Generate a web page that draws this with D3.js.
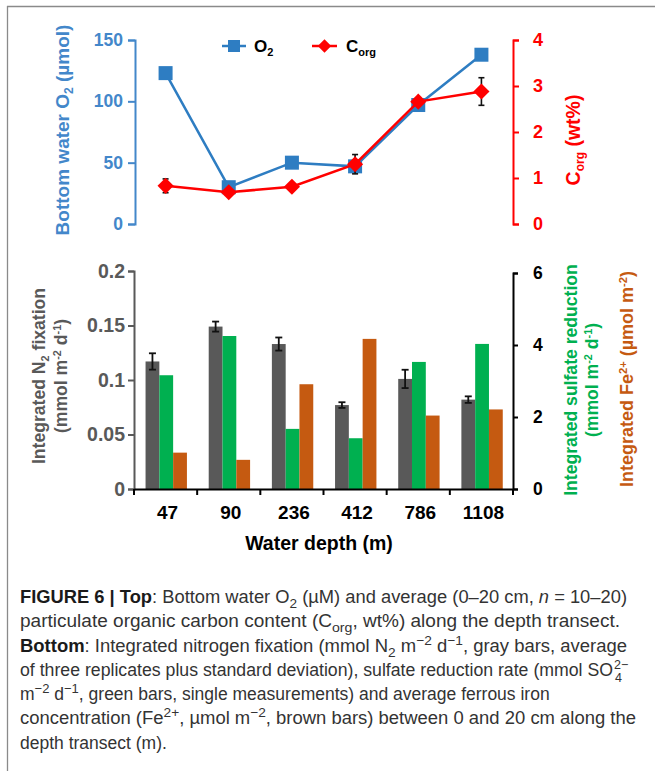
<!DOCTYPE html>
<html>
<head>
<meta charset="utf-8">
<script src="https://cdn.jsdelivr.net/npm/d3@7"></script>
<style>
  html, body { margin: 0; padding: 0; background: #fff; }
  svg { display: block; }
</style>
</head>
<body>
<svg id="fig" width="655" height="771"></svg>
<script>
// ---------------- DATA ----------------
const depths   = ["47", "90", "236", "412", "786", "1108"];
const o2       = [123, 30, 50, 47, 97, 138];             // µmol
const corg     = [0.83, 0.69, 0.81, 1.30, 2.66, 2.88];   // wt%
const corgErr  = [0.15, 0.05, 0.05, 0.21, 0.05, 0.30];
const n2Fix    = [0.117, 0.149, 0.133, 0.077, 0.101, 0.082];
const n2Err    = [0.0075, 0.0046, 0.006, 0.0026, 0.0084, 0.003];
const sulfate  = [3.16, 4.25, 1.67, 1.41, 3.53, 4.03];
const fe       = [1.01, 0.81, 2.91, 4.17, 2.04, 2.21];
const o2Ticks    = [0, 50, 100, 150];
const corgTicks  = [0, 1, 2, 3, 4];
const n2Ticks    = [0, 0.05, 0.1, 0.15, 0.2];
const n2TickLabels = ["0", "0.05", "0.1", "0.15", "0.2"];
const rightTicks = [0, 2, 4, 6];

// ---------------- STYLE ----------------
const FONT = "'Liberation Sans', Arial, Helvetica, sans-serif";
const CAP_FONT = "'Liberation Sans', Arial, Helvetica, sans-serif";
const BLUE_LINE = "#2E7DC2";
const BLUE_TXT = "#4387CA";
const RED = "#FF0000";
const GREY = "#595959";
const GREEN = "#00B050";
const ORANGE = "#C55A11";
const CAP_COL = "#333333";

const svg = d3.select("#fig");

// frame
svg.append("line").attr("x1", 7).attr("x2", 655).attr("y1", 6.5).attr("y2", 6.5)
  .attr("stroke", "#8a8a8a").attr("stroke-width", 1.3);
svg.append("line").attr("x1", 7.5).attr("x2", 7.5).attr("y1", 6).attr("y2", 771)
  .attr("stroke", "#8a8a8a").attr("stroke-width", 1.3);

// shared x band scale
const x = d3.scaleBand().domain(depths).range([134, 513]).paddingInner(0).paddingOuter(0);
const cx = d => x(d) + x.bandwidth() / 2;

// ================= TOP CHART =================
const yO2 = d3.scaleLinear().domain([0, 150]).range([224, 40]);
const yC  = d3.scaleLinear().domain([0, 4]).range([224, 40]);

function styleAxis(g, color, size) {
  g.select(".domain").attr("stroke", color).attr("stroke-width", 2);
  g.selectAll(".tick line").attr("stroke", color).attr("stroke-width", 2);
  g.selectAll(".tick text").attr("fill", color)
    .attr("font-family", FONT).attr("font-weight", "bold").attr("font-size", size);
}

const axO2 = svg.append("g").attr("transform", "translate(135,0)")
  .call(d3.axisLeft(yO2).tickValues(o2Ticks).tickSize(7).tickPadding(5));
styleAxis(axO2, BLUE_TXT, 17.5);

const axC = svg.append("g").attr("transform", "translate(513,0)")
  .call(d3.axisRight(yC).tickValues(corgTicks).tickFormat(d3.format("d")).tickSize(6).tickPadding(14));
styleAxis(axC, RED, 18);

// O2 line + squares
const o2Data = depths.map((d, i) => ({ d, v: o2[i] }));
svg.append("path").datum(o2Data)
  .attr("fill", "none").attr("stroke", BLUE_LINE).attr("stroke-width", 2.5)
  .attr("d", d3.line().x(p => cx(p.d)).y(p => yO2(p.v)));
svg.selectAll(".sq").data(o2Data).enter().append("rect")
  .attr("x", p => cx(p.d) - 7).attr("y", p => yO2(p.v) - 7)
  .attr("width", 14).attr("height", 14).attr("fill", BLUE_LINE);

// Corg line, error bars, diamonds
const cData = depths.map((d, i) => ({ d, v: corg[i], e: corgErr[i] }));
svg.append("path").datum(cData)
  .attr("fill", "none").attr("stroke", RED).attr("stroke-width", 2.5)
  .attr("d", d3.line().x(p => cx(p.d)).y(p => yC(p.v)));
const eb = svg.append("g").attr("stroke", "#111").attr("stroke-width", 1.6);
cData.forEach(p => {
  const X = cx(p.d), y1 = yC(p.v + p.e), y2 = yC(p.v - p.e);
  eb.append("line").attr("x1", X).attr("x2", X).attr("y1", y1).attr("y2", y2);
  eb.append("line").attr("x1", X - 3).attr("x2", X + 3).attr("y1", y1).attr("y2", y1);
  eb.append("line").attr("x1", X - 3).attr("x2", X + 3).attr("y1", y2).attr("y2", y2);
});
const diamond = d3.symbol().type(d3.symbolSquare).size(130);
svg.selectAll(".dm").data(cData).enter().append("path")
  .attr("d", diamond)
  .attr("transform", p => `translate(${cx(p.d)},${yC(p.v)}) rotate(45)`)
  .attr("fill", RED);

// legend
const lg = svg.append("g");
lg.append("line").attr("x1", 222).attr("x2", 246).attr("y1", 46).attr("y2", 46)
  .attr("stroke", BLUE_LINE).attr("stroke-width", 2.5);
lg.append("rect").attr("x", 228).attr("y", 40).attr("width", 12).attr("height", 12).attr("fill", BLUE_LINE);
const t1 = lg.append("text").attr("x", 254).attr("y", 52)
  .attr("font-family", FONT).attr("font-weight", "bold").attr("font-size", 17).attr("fill", "#000");
t1.append("tspan").text("O");
t1.append("tspan").attr("dy", 4).attr("font-size", 11).text("2");
lg.append("line").attr("x1", 312).attr("x2", 337).attr("y1", 46).attr("y2", 46)
  .attr("stroke", RED).attr("stroke-width", 2.5);
lg.append("path").attr("d", d3.symbol().type(d3.symbolSquare).size(90))
  .attr("transform", "translate(324.5,46) rotate(45)").attr("fill", RED);
const t2 = lg.append("text").attr("x", 346).attr("y", 52)
  .attr("font-family", FONT).attr("font-weight", "bold").attr("font-size", 17).attr("fill", "#000");
t2.append("tspan").text("C");
t2.append("tspan").attr("dy", 4).attr("font-size", 11).text("org");

// top axis titles
const ttl = svg.append("text").attr("transform", "translate(69,130) rotate(-90)")
  .attr("text-anchor", "middle").attr("font-family", FONT).attr("font-weight", "bold")
  .attr("font-size", 19).attr("fill", BLUE_TXT);
ttl.append("tspan").text("Bottom water O");
ttl.append("tspan").attr("dy", 4).attr("font-size", 12).text("2");
ttl.append("tspan").attr("dy", -4).text(" (µmol)");

const ttr = svg.append("text").attr("transform", "translate(580,140) rotate(-90)")
  .attr("text-anchor", "middle").attr("font-family", FONT).attr("font-weight", "bold")
  .attr("font-size", 19.5).attr("fill", RED);
ttr.append("tspan").text("C");
ttr.append("tspan").attr("dy", 4).attr("font-size", 12).text("org");
ttr.append("tspan").attr("dy", -4).text(" (wt%)");

// ================= BOTTOM CHART =================
const yN  = d3.scaleLinear().domain([0, 0.2]).range([489, 271]);
const yR  = d3.scaleLinear().domain([0, 6]).range([489, 273]);
const sub = d3.scaleBand().domain(["n2", "sr", "fe"]).range([0, x.bandwidth()])
  .paddingInner(0).paddingOuter(0.79).align(0.53);

const barData = [];
depths.forEach((d, i) => {
  barData.push({ d, k: "n2", y: yN(n2Fix[i]), c: GREY });
  barData.push({ d, k: "sr", y: yR(sulfate[i]), c: GREEN });
  barData.push({ d, k: "fe", y: yR(fe[i]), c: ORANGE });
});
svg.selectAll(".bar").data(barData).enter().append("rect")
  .attr("x", b => x(b.d) + sub(b.k)).attr("width", sub.bandwidth())
  .attr("y", b => b.y).attr("height", b => 489 - b.y).attr("fill", b => b.c);

// N2 error bars
const eb2 = svg.append("g").attr("stroke", "#111").attr("stroke-width", 1.8);
depths.forEach((d, i) => {
  const X = x(d) + sub("n2") + sub.bandwidth() / 2;
  const y1 = yN(n2Fix[i] + n2Err[i]), y2 = yN(n2Fix[i] - n2Err[i]);
  eb2.append("line").attr("x1", X).attr("x2", X).attr("y1", y1).attr("y2", y2);
  eb2.append("line").attr("x1", X - 3.5).attr("x2", X + 3.5).attr("y1", y1).attr("y2", y1);
  eb2.append("line").attr("x1", X - 3.5).attr("x2", X + 3.5).attr("y1", y2).attr("y2", y2);
});

// left axis
const axN = svg.append("g").attr("transform", "translate(134,0)")
  .call(d3.axisLeft(yN).tickValues(n2Ticks).tickFormat((v, i) => n2TickLabels[i]).tickSize(6).tickPadding(3));
styleAxis(axN, GREY, 19.5);
// right axis
const axR = svg.append("g").attr("transform", "translate(513,0)")
  .call(d3.axisRight(yR).tickValues(rightTicks).tickFormat(d3.format("d")).tickSize(5).tickPadding(15));
styleAxis(axR, "#000", 17.5);

// x axis: baseline, boundary ticks, labels
const axX = svg.append("g").attr("transform", "translate(0,489)")
  .call(d3.axisBottom(x).tickSize(0).tickPadding(17).tickSizeOuter(0));
axX.select(".domain").attr("stroke", "#000").attr("stroke-width", 2);
axX.selectAll(".tick text").attr("font-family", FONT).attr("font-weight", "bold")
  .attr("font-size", 19).attr("fill", "#000").attr("dx", 2);
const bounds = depths.map(d => x(d)).concat([x.range()[1]]);
axX.selectAll(".bnd").data(bounds).enter().append("line")
  .attr("x1", b => b).attr("x2", b => b).attr("y1", 0).attr("y2", 6)
  .attr("stroke", "#000").attr("stroke-width", 2);

svg.append("text").attr("x", 319).attr("y", 550).attr("text-anchor", "middle")
  .attr("font-family", FONT).attr("font-weight", "bold").attr("font-size", 19.5)
  .attr("fill", "#000").text("Water depth (m)");

// bottom titles
function rotTitle(xPos, yPos, color, size, parts) {
  const t = svg.append("text").attr("transform", `translate(${xPos},${yPos}) rotate(-90)`)
    .attr("text-anchor", "middle").attr("font-family", FONT).attr("font-weight", "bold")
    .attr("font-size", size).attr("fill", color);
  let off = 0;
  parts.forEach(p => {
    const ts = t.append("tspan");
    let target = 0;
    if (p[1] === "sub") { target = 4; ts.attr("font-size", size * 0.62); }
    if (p[1] === "sup") { target = -6; ts.attr("font-size", size * 0.62); }
    ts.attr("dy", target - off); off = target;
    ts.text(p[0]);
  });
  return t;
}
rotTitle(45, 376, GREY, 17.6, [["Integrated N", ""], ["2", "sub"], [" fixation", ""]]);
rotTitle(67, 376, GREY, 17.6, [["(mmol m", ""], ["-2", "sup"], [" d", ""], ["-1", "sup"], [")", ""]]);
rotTitle(577, 380, GREEN, 17.6, [["Integrated sulfate reduction", ""]]);
rotTitle(598, 380, GREEN, 17.6, [["(mmol m", ""], ["-2", "sup"], [" d", ""], ["-1", "sup"], [")", ""]]);
rotTitle(633, 379, ORANGE, 18, [["Integrated Fe", ""], ["2+", "sup"], [" (µmol m", ""], ["-2", "sup"], [")", ""]]);

// ================= CAPTION =================
const capX = 20;
function capLine(yPos, parts, width) {
  const t = svg.append("text").attr("x", capX).attr("y", yPos)
    .attr("font-family", CAP_FONT).attr("font-weight", "normal").attr("font-size", 17.5)
    .attr("fill", CAP_COL);
  let off = 0;
  parts.forEach(p => {
    const ts = t.append("tspan");
    let target = 0;
    const st = p[1] || "";
    if (st === "b") ts.attr("font-weight", 700).attr("fill", "#1a1a1a");
    if (st === "i") ts.attr("font-style", "italic");
    if (st === "sub") { target = 5; ts.attr("font-size", 13); }
    if (st === "sup") { target = -7; ts.attr("font-size", 13); }
    ts.attr("dy", target - off); off = target;
    ts.text(p[0]);
  });
  if (width) t.attr("textLength", width).attr("lengthAdjust", "spacingAndGlyphs");
  return t;
}
capLine(603, [["FIGURE 6 | Top", "b"], [": Bottom water O"], ["2", "sub"], [" (µM) and average (0–20 cm, "], ["n", "i"], [" = 10–20)"]], 607);
capLine(627, [["particulate organic carbon content (C"], ["org", "sub"], [", wt%) along the depth transect."]], 600);
capLine(652, [["Bottom", "b"], [": Integrated nitrogen fixation (mmol N"], ["2", "sub"], [" m"], ["−2", "sup"], [" d"], ["−1", "sup"], [", gray bars, average"]], 607);
capLine(676, [["of three replicates plus standard deviation), sulfate reduction rate (mmol SO"]], 593);
// stacked super/subscript of SO4 2− in a single text element
const stack = svg.append("text").attr("x", capX + 594).attr("y", 676).attr("font-family", CAP_FONT)
  .attr("font-size", 12.5).attr("fill", CAP_COL);
stack.append("tspan").attr("x", capX + 594).attr("dy", -7).text("2−");
stack.append("tspan").attr("x", capX + 595).attr("dy", 13).text("4");
capLine(700, [["m"], ["−2", "sup"], [" d"], ["−1", "sup"], [", green bars, single measurements) and average ferrous iron"]]);
capLine(724, [["concentration (Fe"], ["2+", "sup"], [", µmol m"], ["−2", "sup"], [", brown bars) between 0 and 20 cm along the"]], 616);
capLine(749, [["depth transect (m)."]]);
</script>
</body>
</html>
